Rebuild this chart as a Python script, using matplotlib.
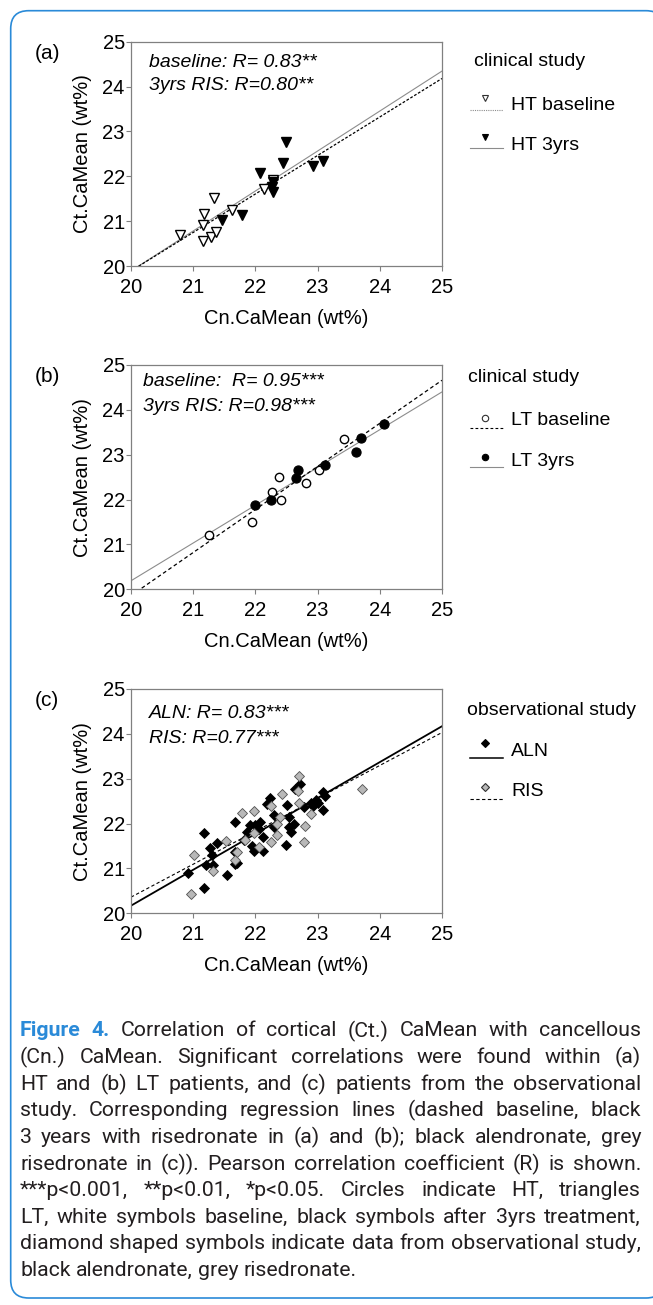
import matplotlib
matplotlib.use("Agg")
import matplotlib.pyplot as plt
import numpy as np
from matplotlib.lines import Line2D
from matplotlib.patches import PathPatch
from matplotlib.path import Path
from matplotlib.transforms import IdentityTransform

W, H = 653, 1305
plt.rcParams['font.family'] = ['Liberation Sans', 'DejaVu Sans']

# ============================================
# 1. Data
# ============================================
# (a) HT patients, clinical study
ht_base_x = [20.79, 21.17, 21.15, 21.15, 21.33, 21.29, 21.37, 21.62, 22.14, 22.29]
ht_base_y = [20.69, 21.17, 20.91, 20.56, 21.51, 20.65, 20.75, 21.25, 21.71, 21.92]
ht_3y_x = [21.47, 21.78, 22.07, 22.29, 22.27, 22.29, 22.45, 22.49, 22.93, 23.08]
ht_3y_y = [21.03, 21.14, 22.07, 21.88, 21.77, 21.66, 22.29, 22.77, 22.24, 22.34]
ht_fit_base = [0.858, 2.73]   # slope, intercept
ht_fit_3y = [0.891, 2.07]

# (b) LT patients, clinical study
lt_base_x = [21.26, 21.94, 22.27, 22.38, 22.41, 22.81, 23.03, 23.43]
lt_base_y = [21.20, 21.51, 22.17, 22.50, 22.00, 22.38, 22.67, 23.36]
lt_3y_x = [22.00, 22.25, 22.66, 22.69, 23.12, 23.61, 23.69, 24.06]
lt_3y_y = [21.87, 22.00, 22.47, 22.65, 22.76, 23.06, 23.38, 23.68]
lt_fit_base = [0.960, 0.66]
lt_fit_3y = [0.842, 3.35]

# (c) observational study
aln_x = [20.91, 21.18, 21.18, 21.21, 21.27, 21.31, 21.32, 21.38, 21.54, 21.67,
         21.67, 21.67, 21.71, 21.82, 21.86, 21.92, 21.94, 21.97, 21.99, 22.05,
         22.07, 22.13, 22.13, 22.18, 22.23, 22.30, 22.30, 22.49, 22.51, 22.54,
         22.54, 22.58, 22.62, 22.64, 22.72, 22.78, 22.90, 22.93, 23.01, 23.08,
         23.08, 23.12, 22.98]
aln_y = [20.90, 20.56, 21.79, 21.07, 21.46, 21.29, 21.07, 21.57, 20.86, 22.04,
         21.37, 21.11, 21.12, 21.64, 21.81, 21.96, 21.50, 21.38, 21.96, 21.89,
         22.04, 21.38, 21.70, 22.43, 22.56, 22.19, 21.93, 21.52, 22.41, 22.14,
         21.93, 21.81, 21.99, 22.78, 22.89, 22.37, 22.46, 22.39, 22.45, 22.31,
         22.71, 22.61, 22.52]
ris_x = [20.96, 21.01, 21.32, 21.53, 21.67, 21.70, 21.79, 21.84, 21.97, 21.98,
         22.06, 22.25, 22.25, 22.34, 22.35, 22.40, 22.42, 22.70, 22.69, 22.70,
         22.78, 22.80, 22.89, 23.71]
ris_y = [20.44, 21.31, 20.94, 21.61, 21.18, 21.37, 22.24, 21.64, 22.28, 21.78,
         21.48, 22.39, 21.59, 21.74, 22.00, 22.14, 22.67, 23.06, 22.72, 22.46,
         21.59, 21.95, 22.21, 22.78]
aln_fit = [0.800, 4.17]
ris_fit = [0.734, 5.68]

ticks = [20, 21, 22, 23, 24, 25]
panel_labels = ['(a)', '(b)', '(c)']
stat_text = [['baseline: R= 0.83**', '3yrs RIS: R=0.80**'],
             ['baseline:  R= 0.95***', '3yrs RIS: R=0.98***'],
             ['ALN: R= 0.83***', 'RIS: R=0.77***']]
legend_titles = ['clinical study', 'clinical study', 'observational study']
legend_names = [['HT baseline', 'HT 3yrs'], ['LT baseline', 'LT 3yrs'], ['ALN', 'RIS']]

caption_lines = [
    "Figure 4. Correlation of cortical (Ct.) CaMean with cancellous",
    "(Cn.) CaMean. Significant correlations were found within (a)",
    "HT and (b) LT patients, and (c) patients from the observational",
    "study. Corresponding regression lines (dashed baseline, black",
    "3 years with risedronate in (a) and (b); black alendronate, grey",
    "risedronate in (c)). Pearson correlation coefficient (R) is shown.",
    "***p<0.001, **p<0.01, *p<0.05. Circles indicate HT, triangles",
    "LT, white symbols baseline, black symbols after 3yrs treatment,",
    "diamond shaped symbols indicate data from observational study,",
    "black alendronate, grey risedronate.",
]

# ============================================
# 2. Figure and axes
# ============================================
fig = plt.figure(figsize=(W / 100, H / 100), dpi=100)

def fx(px):
    return px / W

def fy(py):
    return 1 - py / H

ax_left, ax_right = 131, 442
ax_tops = [41.7, 365, 689]
ax_h = 224.3
axes = []
for top in ax_tops:
    ax = fig.add_axes([fx(ax_left), fy(top + ax_h), (ax_right - ax_left) / W, ax_h / H])
    axes.append(ax)

xs = np.linspace(20, 25, 50)
ax_a, ax_b, ax_c = axes

# (a)
ax_a.plot(xs, np.polyval(ht_fit_3y, xs), color='#8c8c8c', lw=0.8)
ax_a.plot(xs, np.polyval(ht_fit_base, xs), color='black', lw=0.9, ls=(0, (2.2, 1.4)))
ax_a.plot(ht_base_x, ht_base_y, 'v', ms=6.6, mfc='white', mec='black', mew=1.0, ls='none')
ax_a.plot(ht_3y_x, ht_3y_y, 'v', ms=6.6, mfc='black', mec='black', mew=1.0, ls='none')

# (b)
ax_b.plot(xs, np.polyval(lt_fit_3y, xs), color='#8c8c8c', lw=0.8)
ax_b.plot(xs, np.polyval(lt_fit_base, xs), color='black', lw=0.9, ls=(0, (3, 2.2)))
ax_b.plot(lt_base_x, lt_base_y, 'o', ms=6.0, mfc='white', mec='black', mew=1.0, ls='none')
ax_b.plot(lt_3y_x, lt_3y_y, 'o', ms=6.6, mfc='black', mec='black', mew=0.8, ls='none')

# (c)
ax_c.plot(xs, np.polyval(aln_fit, xs), color='black', lw=1.3)
ax_c.plot(xs, np.polyval(ris_fit, xs), color='black', lw=0.8, ls=(0, (3, 2.2)))
ax_c.plot(aln_x, aln_y, 'D', ms=4.8, mfc='black', mec='black', mew=0.6, ls='none')
ax_c.plot(ris_x, ris_y, 'D', ms=4.8, mfc='#b8b8b8', mec='#505050', mew=0.6, ls='none')

for i, ax in enumerate(axes):
    ax.set_xlim(20, 25)
    ax.set_ylim(20, 25)
    ax.set_xticks(ticks)
    ax.set_yticks(ticks)
    for sp in ax.spines.values():
        sp.set_color('#808080')
        sp.set_linewidth(0.9)
    ax.tick_params(axis='both', direction='out', length=3.5, width=0.8, color='#808080',
                   labelsize=14.5, labelcolor='black')
    ax.tick_params(axis='x', pad=5)
    ax.tick_params(axis='y', pad=1)
    ax.set_xlabel('Cn.CaMean (wt%)', fontsize=14.5)
    ax.set_ylabel('Ct.CaMean (wt%)', fontsize=14.5)
    ax.xaxis.set_label_coords(0.5, -0.19)
    ax.yaxis.set_label_coords(-0.125, 0.5)
    ys = [0.908, 0.804] if i == 0 else ([0.925, 0.813] if i == 1 else [0.892, 0.78])
    xt = [0.058, 0.04, 0.059][i]
    for line, yy in zip(stat_text[i], ys):
        ax.text(xt, yy, line, transform=ax.transAxes, style='italic', fontsize=14,
                va='center', ha='left')
    fig.text(fx(47), fy(ax_tops[i] + 11.5), panel_labels[i], fontsize=15,
             ha='center', va='center')

# ============================================
# 3. Hand-made legends on the right
# ============================================
legend_rows = [
    # title y, title x, [marker y, line y, text y] for two rows
    (61.7, 474, [(98.3, 110, 105), (136.7, 148.3, 146)]),
    (377.5, 468, [(418, 427.5, 420.5), (456.7, 467, 461)]),
    (710.7, 467, [(743, 758.5, 751.5), (786.7, 798.5, 792)]),
]
legend_styles = [
    [dict(marker='v', mfc='white', line=dict(color='#8c8c8c', lw=0.8, ls=(0, (1, 1)))),
     dict(marker='v', mfc='black', line=dict(color='#8c8c8c', lw=0.8, ls='-'))],
    [dict(marker='o', mfc='white', line=dict(color='black', lw=0.8, ls=(0, (2.5, 2)))),
     dict(marker='o', mfc='black', line=dict(color='#8c8c8c', lw=0.8, ls='-'))],
    [dict(marker='D', mfc='black', line=dict(color='black', lw=1.1, ls='-')),
     dict(marker='D', mfc='#b8b8b8', line=dict(color='black', lw=0.8, ls=(0, (3, 2.2))))],
]
for i, (ty, tx, rows) in enumerate(legend_rows):
    fig.text(fx(tx), fy(ty), legend_titles[i], fontsize=14, ha='left', va='center')
    for j, (my, ly, tyy) in enumerate(rows):
        st = legend_styles[i][j]
        fig.add_artist(Line2D([fx(470), fx(503)], [fy(ly), fy(ly)],
                              transform=fig.transFigure, **st['line']))
        ms = 3.6 if st['marker'] == 'D' else 4.6
        fig.add_artist(Line2D([fx(485)], [fy(my)], transform=fig.transFigure,
                              marker=st['marker'], ms=ms, mfc=st['mfc'],
                              mec='#303030' if st['mfc'] != 'black' else 'black',
                              mew=0.8, ls='none'))
        fig.text(fx(511), fy(tyy), legend_names[i][j], fontsize=14, ha='left', va='center')

# ============================================
# 4. Blue frame (open on the right, cut by the page) and justified caption
# ============================================
fl, fr, ft, fb, r = 10.7, 664, H - 10.7, H - 1298, 18
frame_path = Path(
    [(fr, ft - r), (fr, ft), (fr - r, ft), (fl + r, ft), (fl, ft), (fl, ft - r),
     (fl, fb + r), (fl, fb), (fl + r, fb), (fr - r, fb), (fr, fb), (fr, fb + r)],
    [Path.MOVETO, Path.CURVE3, Path.CURVE3, Path.LINETO, Path.CURVE3, Path.CURVE3,
     Path.LINETO, Path.CURVE3, Path.CURVE3, Path.LINETO, Path.CURVE3, Path.CURVE3])
fig.add_artist(PathPatch(frame_path, transform=IdentityTransform(), fill=False,
                         edgecolor='#2a8ad8', linewidth=1.2))

renderer = fig.canvas.get_renderer()
cap_font = ['Roboto', 'DejaVu Sans']
cap_left, cap_right = 20, 641
cap_top, cap_step = 1031, 26.6
blue = '#2a8ad8'

def word_width(word, size, bold=False):
    t = fig.text(0, 0, word, fontsize=size, family=cap_font,
                 weight='bold' if bold else 'normal')
    w = t.get_window_extent(renderer).width
    t.remove()
    return w

# pick a size so the widest line (natural spacing) just fits the column
probe = 10
space_probe = word_width('a a', probe) - word_width('aa', probe)
widest = 0
for k, line in enumerate(caption_lines[:-1]):
    words = line.split(' ')
    wsum = sum(word_width(w, probe, bold=(k == 0 and n < 2)) for n, w in enumerate(words))
    widest = max(widest, wsum + space_probe * (len(words) - 1))
cap_size = probe * (cap_right - cap_left) / widest * 0.995

space_w = word_width('a a', cap_size) - word_width('aa', cap_size)
for k, line in enumerate(caption_lines):
    words = line.split(' ')
    bolds = [(k == 0 and n < 2) for n in range(len(words))]
    widths = [word_width(w, cap_size, b) for w, b in zip(words, bolds)]
    if k < len(caption_lines) - 1:
        gap = (cap_right - cap_left - sum(widths)) / (len(words) - 1)
    else:
        gap = space_w
    x = cap_left
    y = cap_top + k * cap_step
    for w, b, wd in zip(words, bolds, widths):
        fig.text(fx(x), fy(y), w, fontsize=cap_size, family=cap_font,
                 weight='bold' if b else 'normal', color=blue if b else '#231f20',
                 ha='left', va='center')
        x += wd + gap

fig.savefig('out.png', dpi=100)
